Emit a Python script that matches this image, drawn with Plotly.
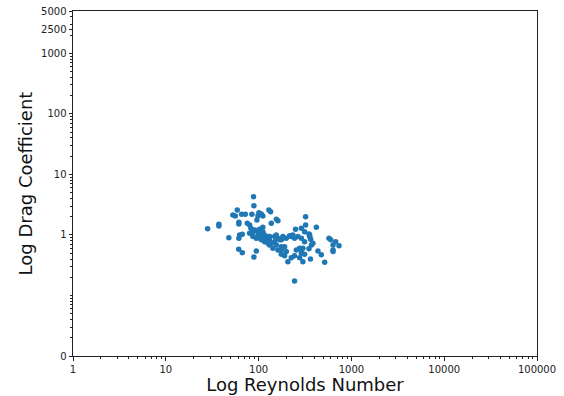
import plotly.graph_objects as go

reynolds = [88.3, 89, 58.9, 52.8, 56.1, 65.6, 71.9, 84.7, 100.7, 106.9, 111.2, 98.3, 129, 134.7,
            155.3, 161.5, 95.9, 137, 37.3, 37.3, 61.3, 61.3, 75.5, 80, 28.2, 47.8, 62.4, 66.7, 61.3,
            61, 66.7, 94.4, 89,
            321, 321, 289, 250, 419, 313, 355, 364, 289, 573, 598, 677, 735, 634, 634, 634, 436, 474,
            515, 371, 300, 349, 289, 313, 277, 300, 362, 244,
            131, 142.6, 161.5, 175.7, 190.6, 207, 225, 244, 255, 277,
            86.8, 94.4, 106.9, 116.1, 126, 137, 148.8, 155.3, 168.5, 175.7, 182.8, 198.9, 225, 244,
            313, 355, 385, 86.8, 94.4, 102.5, 111.2, 116.1, 80, 106.9, 131.4, 148.8, 234, 265, 349,
            82.6, 90.5, 100.7, 106.9, 121, 98.3, 111, 126, 98.3, 126, 131,
            111, 102.5, 155, 175.7, 216, 175.7, 190.6, 199, 289, 161.5, 183]

drag_coeff = [4.29, 3.04, 2.59, 2.14, 2.06, 2.2, 2.2, 2.2, 2.33, 2.22, 2.06, 2.06, 2.59, 2.42,
              1.82, 1.72, 1.77, 1.56, 1.50, 1.41, 1.62, 1.52, 1.56, 1.46, 1.26, 0.90, 1.0, 1.03, 0.88,
              0.58, 0.51, 0.545, 0.43,
              2.0, 1.46, 1.29, 1.24, 1.34, 1.13, 1.0, 0.85, 0.88, 0.88, 0.83, 0.77, 0.66, 0.68, 0.565,
              0.53, 0.545, 0.47, 0.355, 0.68, 0.60, 0.59, 0.50, 0.48, 0.42, 0.36, 0.40, 0.174,
              0.68, 0.60, 0.565, 0.48, 0.455, 0.36, 0.42, 0.455, 0.565, 0.60,
              0.94, 0.88, 0.83, 0.77, 0.83, 0.73, 0.77, 0.68, 0.83, 0.64, 0.94, 0.88, 0.94, 0.88,
              0.77, 0.94, 0.73, 1.13, 1.18, 1.09, 1.13, 1.0, 1.07, 0.88, 0.94, 0.94, 1.0, 0.94, 1.04,
              1.29, 1.21, 1.13, 1.07, 0.94, 1.0, 0.88, 0.88, 0.90, 0.73, 0.83,
              1.34, 1.24, 1.0, 0.83, 0.97, 0.565, 0.64, 0.53, 0.565, 0.88, 0.88]

x_ticks = [1, 10, 100, 1000, 10000, 100000]
x_labels = ["1", "10", "100", "1000", "10000", "100000"]
y_ticks = [0.01, 1, 10, 100, 1000, 2500, 5000]
y_labels = ["0", "1", "10", "100", "1000", "2500", "5000"]

def minors(lo_exp, hi_exp, top=None):
    vals = []
    for e in range(lo_exp, hi_exp):
        for d in range(2, 10):
            v = d * 10 ** e
            if top is None or v <= top:
                vals.append(v)
    return vals

x_minor = minors(0, 5)
y_minor = [0.1] + minors(-2, 4, 5000)

fig = go.Figure()
fig.add_trace(go.Scatter(
    x=reynolds, y=drag_coeff, mode="markers",
    marker=dict(color="#1f77b4", size=5.5, line=dict(width=0)),
    showlegend=False,
))

axis_common = dict(
    type="log", showgrid=False, zeroline=False,
    showline=True, linecolor="#222", linewidth=1, mirror=True,
    ticks="outside", ticklen=3.5, tickwidth=1, tickcolor="#222",
    tickfont=dict(family="DejaVu Sans", size=10, color="#222"),
)

fig.update_xaxes(
    **axis_common,
    range=[0, 5],
    tickmode="array", tickvals=x_ticks, ticktext=x_labels,
    minor=dict(tickmode="array", tickvals=x_minor, ticks="outside", ticklen=2,
               tickwidth=0.8, tickcolor="#222", showgrid=False),
    title=dict(text="Log Reynolds Number", font=dict(family="DejaVu Sans", size=18, color="#111"),
               standoff=4),
)
fig.update_yaxes(
    **axis_common,
    range=[-2, 3.69897],
    tickmode="array", tickvals=y_ticks, ticktext=y_labels,
    minor=dict(tickmode="array", tickvals=y_minor, ticks="outside", ticklen=2,
               tickwidth=0.8, tickcolor="#222", showgrid=False),
    title=dict(text="Log Drag Coefficient", font=dict(family="DejaVu Sans", size=18, color="#111"),
               standoff=3),
)

fig.update_layout(
    width=564, height=396,
    margin=dict(l=73, r=27, t=11, b=40, autoexpand=False),
    plot_bgcolor="white", paper_bgcolor="white",
)

fig.write_html("out.html")
